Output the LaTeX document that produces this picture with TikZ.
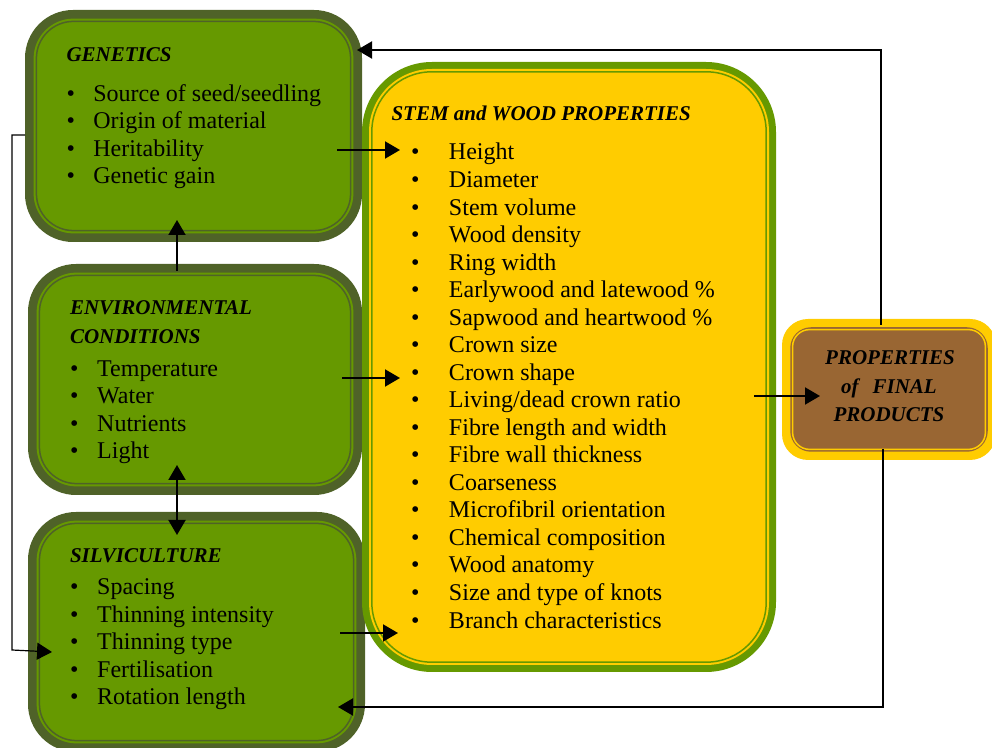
\documentclass[tikz,border=0pt]{standalone}
\usepackage{fontspec}
\setmainfont{Liberation Serif}
\usetikzlibrary{arrows.meta}
\definecolor{olivedark}{HTML}{4F6228}
\definecolor{leafgreen}{HTML}{669900}
\definecolor{sunyellow}{HTML}{FFCC00}
\definecolor{barkbrown}{HTML}{996633}
\begin{document}
\begin{tikzpicture}[x=0.5pt,y=-0.5pt]
					\tikzstyle{invisible} = [outer sep=0,inner sep=0,minimum size=0]
					\tikzstyle{arr} = [-{Triangle[length=7.5pt,width=8.5pt]}, line width=1pt]
					\tikzstyle{thinarr} = [-{Triangle[length=7.5pt,width=8.5pt]}, line width=0.6pt]
					\tikzstyle{dblarr} = [{Triangle[length=7.5pt,width=8.5pt]}-{Triangle[length=7.5pt,width=8.5pt]}, line width=1pt]
					\tikzstyle{head} = [invisible, anchor=base west, font=\fontsize{10.5}{12}\selectfont\bfseries\itshape]
					\tikzstyle{item} = [invisible, anchor=base west, font=\fontsize{12}{13.75}\selectfont]
					\path [use as bounding box, clip] (0,0) rectangle (992,748);
					
					% green boxes
					\node [invisible, fill=olivedark, rounded corners=24pt, minimum width=168.5pt, minimum height=116pt] (gen) at (193.5,126) {};
					\node [invisible, fill=leafgreen, rounded corners=20pt, minimum width=159.9pt, minimum height=107.4pt] (gen-in) at (gen) {};
					\node [invisible, draw=olivedark, line width=0.75pt, rounded corners=18.5pt, minimum width=157.1pt, minimum height=104.6pt] (gen-ln) at (gen) {};
					\node [invisible, fill=olivedark, rounded corners=24pt, minimum width=167pt, minimum height=115.5pt] (env) at (195,379.5) {};
					\node [invisible, fill=leafgreen, rounded corners=20pt, minimum width=158.4pt, minimum height=106.9pt] (env-in) at (env) {};
					\node [invisible, draw=olivedark, line width=0.75pt, rounded corners=18.5pt, minimum width=155.6pt, minimum height=104.1pt] (env-ln) at (env) {};
					\node [invisible, fill=olivedark, rounded corners=24pt, minimum width=168.5pt, minimum height=120pt] (silv) at (196.5,632) {};
					\node [invisible, fill=leafgreen, rounded corners=20pt, minimum width=159.9pt, minimum height=111.4pt] (silv-in) at (silv) {};
					\node [invisible, draw=olivedark, line width=0.75pt, rounded corners=18.5pt, minimum width=157.1pt, minimum height=108.6pt] (silv-ln) at (silv) {};
					
					% yellow and brown boxes
					\node [invisible, fill=leafgreen, rounded corners=35pt, minimum width=207pt, minimum height=305pt] (stem) at (569,367) {};
					\node [invisible, fill=sunyellow, rounded corners=31.5pt, minimum width=200pt, minimum height=298pt] (stem-in) at (stem) {};
					\node [invisible, draw=leafgreen, line width=0.75pt, rounded corners=30pt, minimum width=197.2pt, minimum height=295.2pt] (stem-ln) at (stem) {};
					\node [invisible, fill=sunyellow, rounded corners=13pt, minimum width=107pt, minimum height=70.5pt] (prod) at (889,389.5) {};
					\node [invisible, fill=barkbrown, draw=barkbrown, line width=0.75pt, rounded corners=10pt, minimum width=98pt, minimum height=61.5pt] (prod-in) at (prod) {};
					\node [invisible, draw=sunyellow, line width=0.75pt, rounded corners=8.5pt, minimum width=96.4pt, minimum height=59.9pt] (prod-ln) at (prod) {};
					
					% texts
					\node [head] (gen-t) at (66.5,61.5) {GENETICS};
					\foreach \txt [count=\i] in {{Source of seed/seedling}, Origin of material, Heritability, Genetic gain}
						\node [item] (gen-\i) at (66.5,{101.5+27.5*(\i-1)}) {\makebox[13.4pt][l]{\textbullet}\txt};
					\node [head] (env-t1) at (70,315) {ENVIRONMENTAL};
					\node [head] (env-t2) at (70,344) {CONDITIONS};
					\foreach \txt [count=\i] in {Temperature, Water, Nutrients, Light}
						\node [item] (env-\i) at (70,{376.5+27.3*(\i-1)}) {\makebox[13.6pt][l]{\textbullet}\txt};
					\node [head] (silv-t) at (70,562.5) {SILVICULTURE};
					\foreach \txt [count=\i] in {Spacing, Thinning intensity, Thinning type, Fertilisation, Rotation length}
						\node [item] (silv-\i) at (70,{595+27.5*(\i-1)}) {\makebox[13.6pt][l]{\textbullet}\txt};
					\node [head] (stem-t) at (391.5,120.5) {STEM and WOOD PROPERTIES};
					\foreach \txt [count=\i] in {Height, Diameter, Stem volume, Wood density, Ring width,
						Earlywood and latewood \%, Sapwood and heartwood \%, Crown size, Crown shape,
						{Living/dead crown ratio}, Fibre length and width, Fibre wall thickness, Coarseness,
						Microfibril orientation, Chemical composition, Wood anatomy, Size and type of knots,
						Branch characteristics}
						\node [item] (stem-\i) at (411,{160+27.53*(\i-1)}) {\makebox[19pt][l]{\textbullet}\txt};
					\node [head, anchor=base] (prod-t1) at (890,365) {PROPERTIES};
					\node [head, anchor=base] (prod-t2) at (889,394) {of\hspace{7pt}FINAL};
					\node [head, anchor=base] (prod-t3) at (889,421.5) {PRODUCTS};
					
					% connectors
					\coordinate (gen-out) at (337,150);
					\coordinate (stem-in1) at (400,150);
					\coordinate (env-out) at (342,378);
					\coordinate (stem-in2) at (400,378);
					\coordinate (silv-out) at (340,633);
					\coordinate (stem-in3) at (398,633);
					\coordinate (stem-out) at (754,396);
					\coordinate (prod-in1) at (820,396);
					\coordinate (prod-top) at (881,325);
					\coordinate (gen-back) at (357,50);
					\coordinate (prod-bot) at (883,449);
					\coordinate (silv-back) at (338,707);
					\coordinate (env-top) at (177,271);
					\coordinate (gen-bot) at (177,220);
					\coordinate (env-bot) at (177,465);
					\coordinate (silv-top) at (177,535);
					\coordinate (gen-w) at (25,135);
					\coordinate (loop1) at (12,135);
					\coordinate (loop2) at (12,650);
					\coordinate (silv-w) at (52,652);
					\draw [arr] (gen-out) -- (stem-in1);
					\draw [arr] (env-out) -- (stem-in2);
					\draw [arr] (silv-out) -- (stem-in3);
					\draw [arr] (stem-out) -- (prod-in1);
					\draw [arr] (prod-top) |- (gen-back);
					\draw [arr] (prod-bot) |- (silv-back);
					\draw [arr] (env-top) -- (gen-bot);
					\draw [dblarr] (env-bot) -- (silv-top);
					\draw [thinarr] (gen-w) -- (loop1) -- (loop2) -- (silv-w);
\end{tikzpicture}
\end{document}
